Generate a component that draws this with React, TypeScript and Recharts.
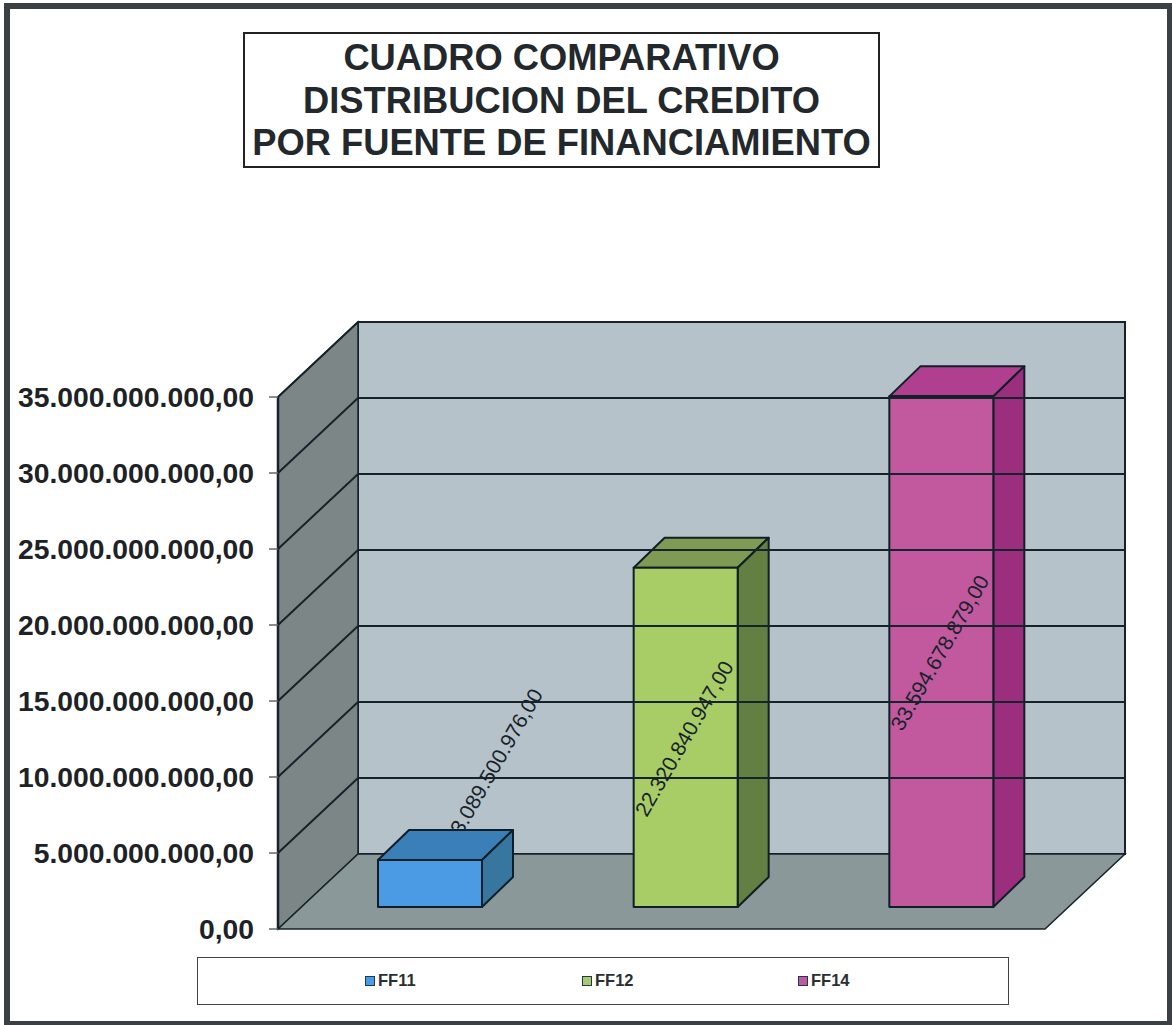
import { BarChart, Bar, XAxis, YAxis, Legend, ReferenceArea, ReferenceLine } from 'recharts';

const CATEGORIES = ['FF11', 'FF12', 'FF14'];
const VALUES = [3089500976, 22320840947, 33594678879];
const COLORS = ['#4a9be3', '#a9cd66', '#c2599f'];
const TOP_COLORS = ['#3b7fb8', '#7f9a52', '#b03f90'];
const SIDE_COLORS = ['#36769f', '#647f42', '#9c2f7d'];
const Y_TICKS = [0, 5000000000, 10000000000, 15000000000, 20000000000, 25000000000, 30000000000, 35000000000];
const TITLE_LINES = ['CUADRO COMPARATIVO', 'DISTRIBUCION DEL CREDITO', 'POR FUENTE DE FINANCIAMIENTO'];

const data = CATEGORIES.map((name, i) => ({ name, value: VALUES[i], [name]: VALUES[i] }));

const FONT = '"Liberation Sans", Arial, sans-serif';
const INK = '#16232a';
const DEPTH_X = 80;
const DEPTH_Y = 75;
// bars stand part way into the floor
const BAR_SHIFT_X = 24;
const BAR_SHIFT_Y = 22;
const BAR_DX = 31;
const BAR_DY = 30;

const fmt = (v: number) => v.toLocaleString('de-DE', { minimumFractionDigits: 2, maximumFractionDigits: 2 });

function Walls({ x, y, width, height }: any) {
  const b = y + height;
  const r = x + width;
  return (
    <g>
      <polygon points={`${x + DEPTH_X},${y - DEPTH_Y} ${r + DEPTH_X},${y - DEPTH_Y} ${r + DEPTH_X},${b - DEPTH_Y} ${x + DEPTH_X},${b - DEPTH_Y}`} fill="#b6c2c9" stroke={INK} strokeWidth={2} />
      <polygon points={`${x},${y} ${x + DEPTH_X},${y - DEPTH_Y} ${x + DEPTH_X},${b - DEPTH_Y} ${x},${b}`} fill="#7c8686" stroke={INK} strokeWidth={1.5} />
      <polygon points={`${x},${b} ${x + DEPTH_X},${b - DEPTH_Y} ${r + DEPTH_X},${b - DEPTH_Y} ${r},${b}`} fill="#8a9899" stroke={INK} strokeWidth={1.5} />
    </g>
  );
}

function GridLine({ x1, y1, x2, y2 }: any) {
  return (
    <polyline
      points={`${x1},${y1} ${x1 + DEPTH_X},${y1 - DEPTH_Y} ${x2 + DEPTH_X},${y2 - DEPTH_Y}`}
      fill="none"
      stroke={INK}
      strokeWidth={2}
    />
  );
}

function Bar3D({ x, y, width, height, payload }: any) {
  if (!height || height <= 0) return null;
  const i = CATEGORIES.indexOf(payload.name);
  const l = x + BAR_SHIFT_X;
  const r = l + width;
  const t = y - BAR_SHIFT_Y;
  const b = t + height;
  const label = (cx: number, cy: number, anchor: 'start' | 'middle') => (
    <text
      x={cx}
      y={cy}
      transform={`rotate(-60 ${cx} ${cy})`}
      textAnchor={anchor}
      dominantBaseline="middle"
      fontFamily={FONT}
      fontSize={21}
      fill={INK}
    >
      {fmt(payload.value)}
    </text>
  );
  const body = (
    <g stroke="#0f1f28" strokeWidth={2} strokeLinejoin="round">
      <polygon points={`${l},${t} ${l + BAR_DX},${t - BAR_DY} ${r + BAR_DX},${t - BAR_DY} ${r},${t}`} fill={TOP_COLORS[i]} />
      <polygon points={`${r},${t} ${r + BAR_DX},${t - BAR_DY} ${r + BAR_DX},${b - BAR_DY} ${r},${b}`} fill={SIDE_COLORS[i]} />
      <rect x={l} y={t} width={width} height={height} fill={COLORS[i]} />
    </g>
  );
  // short bars carry the label behind and above them
  if (height < 160) {
    return (
      <g>
        {label(l + width / 2 + 27, t - 27, 'start')}
        {body}
      </g>
    );
  }
  return (
    <g>
      {body}
      {label(l + width / 2, t + height / 2 + 2, 'middle')}
    </g>
  );
}

function LegendBox({ payload }: any) {
  const lefts = [167, 384, 600];
  return (
    <div style={{ position: 'relative', width: 812, height: 48, border: '1.5px solid #444', background: '#fff', boxSizing: 'border-box' }}>
      {(payload || []).map((p: any, i: number) => (
        <div key={p.value} style={{ position: 'absolute', left: lefts[i], top: 13, display: 'flex', alignItems: 'center', fontFamily: FONT, fontSize: 16.5, fontWeight: 700, color: '#2a2f33' }}>
          <span style={{ width: 10, height: 10, boxSizing: 'border-box', background: p.color, border: '1px solid #1c3a55', marginRight: 3, display: 'inline-block' }} />
          {p.value}
        </div>
      ))}
    </div>
  );
}

export default function App() {
  return (
    <div style={{ position: 'absolute', left: 0, top: 0, width: 1172, height: 1025, background: '#fff', overflow: 'hidden' }}>
      <div style={{ position: 'absolute', left: 4, top: 3, right: 0, bottom: 0, borderStyle: 'solid', borderColor: '#3a4044', borderWidth: '6px 5px 4px 6px', boxSizing: 'border-box' }} />
      <div style={{ position: 'absolute', left: 243, top: 32, width: 637, height: 136, border: '2px solid #222', boxSizing: 'border-box', textAlign: 'center', fontFamily: FONT, fontWeight: 700, fontSize: 36.3, lineHeight: '42.5px', color: '#22282c', paddingTop: 3 }}>
        {TITLE_LINES.map((t) => (
          <div key={t}>{t}</div>
        ))}
      </div>
      <div style={{ position: 'absolute', left: 0, top: 0 }}>
        <BarChart width={1172} height={1025} data={data} barSize={104} margin={{ top: 397, right: 127, bottom: 96, left: 18 }}>
          <ReferenceArea y1={0} y2={35000000000} ifOverflow="visible" shape={Walls} />
          {Y_TICKS.slice(1).map((t) => (
            <ReferenceLine key={t} y={t} ifOverflow="visible" shape={GridLine} />
          ))}
          <XAxis dataKey="name" height={0} tick={false} tickLine={false} axisLine={{ stroke: INK, strokeWidth: 2.5 }} />
          <YAxis
            width={260}
            domain={[0, 35000000000]}
            ticks={Y_TICKS}
            interval={0}
            tickFormatter={fmt}
            tick={{ fontFamily: FONT, fontSize: 28.3, fontWeight: 700, fill: '#1d2226' }}
            tickSize={9}
            tickMargin={15}
            tickLine={{ stroke: '#666', strokeWidth: 1.5 }}
            axisLine={{ stroke: INK, strokeWidth: 2.5 }}
          />
          <Legend
            verticalAlign="middle"
            align="center"
            content={<LegendBox />}
            wrapperStyle={{ left: 197, top: 957, width: 812, height: 48, bottom: 'auto', right: 'auto' }}
          />
          {CATEGORIES.map((c, i) => (
            <Bar key={c} dataKey={c} name={c} stackId="a" fill={COLORS[i]} shape={Bar3D} isAnimationActive={false} />
          ))}
        </BarChart>
      </div>
    </div>
  );
}
